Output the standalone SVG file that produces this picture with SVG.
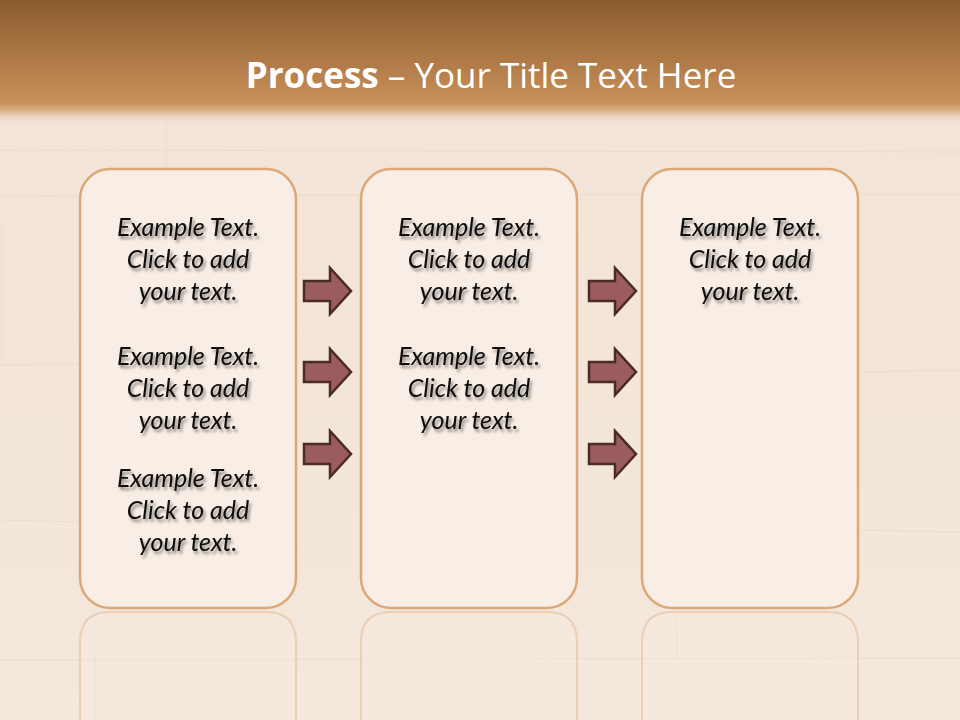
<svg xmlns="http://www.w3.org/2000/svg" width="960" height="720" viewBox="0 0 960 720">
<style>
.box{fill:#F8EEE5;stroke:#DCA878;stroke-width:2.5}
.refl{fill:#F6EBE1;fill-opacity:0.35;stroke:#E2B890;stroke-opacity:0.5;stroke-width:2}
.arrow{fill:#9A5C5C;stroke:#4B2A28;stroke-width:2.5;stroke-linejoin:miter}
.t{font-family:Lato,"Open Sans","Liberation Sans",sans-serif;font-style:italic;font-size:25px;fill:#0A0A0A;text-anchor:middle;filter:url(#sh)}
.title{font-family:"Open Sans","Liberation Sans",sans-serif;font-size:35px;fill:#fff;text-anchor:middle}
.grain{stroke:#E3D0BF;stroke-width:1;opacity:0.45}
</style>
<defs>
<linearGradient id="bg" x1="0" y1="0" x2="0" y2="1">
<stop offset="0" stop-color="#F2E4D7"/>
<stop offset="1" stop-color="#F4E7DB"/>
</linearGradient>
<linearGradient id="hdr" x1="0" y1="0" x2="0" y2="1">
<stop offset="0" stop-color="#8C5C2E"/>
<stop offset="0.55" stop-color="#B47E4B"/>
<stop offset="0.82" stop-color="#C8915A"/>
<stop offset="0.88" stop-color="#D8AC80"/>
<stop offset="1" stop-color="#F2E4D7" stop-opacity="0"/>
</linearGradient>
<filter id="sh" x="-20%" y="-30%" width="140%" height="170%">
<feDropShadow dx="2" dy="3" stdDeviation="1.8" flood-color="#000" flood-opacity="0.45"/>
</filter>
</defs>
<rect width="960" height="720" fill="url(#bg)"/>
<g id="grain">
<line class="grain" x1="166" y1="110" x2="166" y2="230"/>
<line class="grain" x1="2" y1="225" x2="2" y2="365"/>
<line class="grain" x1="0" y1="150" x2="960" y2="152"/>
<line class="grain" x1="0" y1="196" x2="960" y2="194"/>
<line class="grain" x1="0" y1="365" x2="80" y2="364"/>
<line class="grain" x1="860" y1="372" x2="960" y2="370"/>
<line class="grain" x1="0" y1="520" x2="80" y2="522"/>
<line class="grain" x1="860" y1="530" x2="960" y2="532"/>
<line class="grain" x1="0" y1="660" x2="960" y2="658"/>
<line class="grain" x1="95" y1="655" x2="95" y2="720"/>
<line class="grain" x1="677" y1="612" x2="677" y2="660"/>
</g>
<rect x="0" y="0" width="960" height="125" fill="url(#hdr)"/>
<text class="title" x="491" y="88"><tspan font-weight="bold">Process</tspan><tspan>  – Your Title Text Here</tspan></text>

<g id="reflections">
<path class="refl" d="M80,720 L80,642 Q80,612 110,612 L266,612 Q296,612 296,642 L296,720"/>
<path class="refl" d="M361,720 L361,642 Q361,612 391,612 L547,612 Q577,612 577,642 L577,720"/>
<path class="refl" d="M642,720 L642,642 Q642,612 672,612 L828,612 Q858,612 858,642 L858,720"/>
</g>

<g id="box1">
<rect class="box" x="80" y="169" width="216" height="439" rx="30"/>
<text class="t" x="188" y="236">Example Text.</text>
<text class="t" x="188" y="268">Click  to add</text>
<text class="t" x="188" y="300">your text.</text>
<text class="t" x="188" y="365">Example Text.</text>
<text class="t" x="188" y="397">Click  to add</text>
<text class="t" x="188" y="429">your text.</text>
<text class="t" x="188" y="487">Example Text.</text>
<text class="t" x="188" y="519">Click  to add</text>
<text class="t" x="188" y="551">your text.</text>
</g>
<g id="box2">
<rect class="box" x="361" y="169" width="216" height="439" rx="30"/>
<text class="t" x="469" y="236">Example Text.</text>
<text class="t" x="469" y="268">Click  to add</text>
<text class="t" x="469" y="300">your text.</text>
<text class="t" x="469" y="365">Example Text.</text>
<text class="t" x="469" y="397">Click  to add</text>
<text class="t" x="469" y="429">your text.</text>
</g>
<g id="box3">
<rect class="box" x="642" y="169" width="216" height="439" rx="30"/>
<text class="t" x="750" y="236">Example Text.</text>
<text class="t" x="750" y="268">Click  to add</text>
<text class="t" x="750" y="300">your text.</text>
</g>

<g id="connectors">
<path class="arrow" d="M304,281 L330,281 L330,268 L351,291 L330,314 L330,301 L304,301 Z"/>
<path class="arrow" d="M304,362 L330,362 L330,349 L351,372 L330,395 L330,382 L304,382 Z"/>
<path class="arrow" d="M304,444 L330,444 L330,431 L351,454 L330,477 L330,464 L304,464 Z"/>
<path class="arrow" d="M589,281 L615,281 L615,268 L636,291 L615,314 L615,301 L589,301 Z"/>
<path class="arrow" d="M589,362 L615,362 L615,349 L636,372 L615,395 L615,382 L589,382 Z"/>
<path class="arrow" d="M589,444 L615,444 L615,431 L636,454 L615,477 L615,464 L589,464 Z"/>
</g>
</svg>
